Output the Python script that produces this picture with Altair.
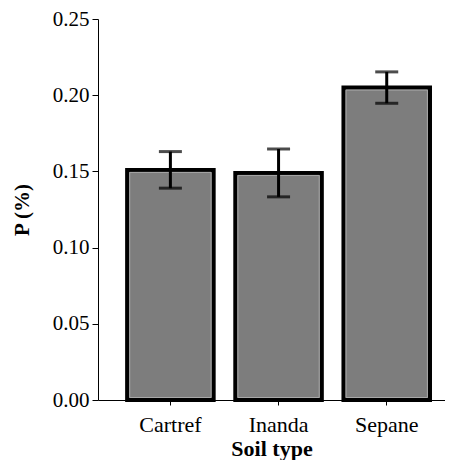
import altair as alt
import pandas as pd

soil = ["Cartref", "Inanda", "Sepane"]
p_mean = [0.151, 0.149, 0.205]
p_err = [0.012, 0.0157, 0.0103]

df = pd.DataFrame({"soil": soil, "p": p_mean, "err": p_err})
df["lo"] = df["p"] - df["err"]
df["hi"] = df["p"] + df["err"]

FONT = "Liberation Serif"

x = alt.X(
    "soil:N",
    sort=soil,
    scale=alt.Scale(paddingInner=0.2, paddingOuter=0.204, align=0.66),
    axis=alt.Axis(
        title="Soil type",
        labelAngle=0,
        labelFont=FONT,
        labelFontSize=22,
        labelColor="black",
        labelPadding=9,
        tickSize=5,
        tickColor="black",
        domainColor="black",
        titleFont=FONT,
        titleFontSize=22,
        titleFontWeight="bold",
        titleColor="black",
        titlePadding=3,
    ),
)

y_axis = alt.Axis(
    title="P (%)",
    values=[0, 0.05, 0.10, 0.15, 0.20, 0.25],
    format=".2f",
    grid=False,
    labelFont=FONT,
    labelFontSize=21,
    labelColor="black",
    labelPadding=3,
    tickSize=6,
    tickColor="black",
    domainColor="black",
    titleFont=FONT,
    titleFontSize=21,
    titleFontWeight="bold",
    titleColor="black",
    titlePadding=20,
)

y_scale = alt.Scale(domain=[0, 0.25], nice=False)

base = alt.Chart(df)

bars = base.mark_bar(fill="#7d7d7d", stroke="black", strokeWidth=4).encode(
    x=x,
    y=alt.Y("p:Q", scale=y_scale, axis=y_axis),
)

inner = base.mark_bar(
    fill=None, stroke="#a8a8a8", strokeWidth=1,
    width=alt.RelativeBandSize(0.94), yOffset=2.5, y2Offset=-2.5,
).encode(
    x=x,
    y=alt.Y("p:Q", scale=y_scale),
    y2=alt.datum(0),
)

stems = base.mark_rule(color="black", strokeWidth=3).encode(
    x=x,
    y=alt.Y("lo:Q", scale=y_scale),
    y2="hi:Q",
)

caps_lo = base.mark_tick(color="black", thickness=3, size=23).encode(
    x=x, y=alt.Y("lo:Q", scale=y_scale)
)
caps_hi = base.mark_tick(color="black", thickness=3, size=23).encode(
    x=x, y=alt.Y("hi:Q", scale=y_scale)
)

chart = (
    alt.layer(bars, inner, stems, caps_lo, caps_hi)
    .properties(
        width=347,
        height=381,
        autosize=alt.AutoSizeParams(type="none"),
        padding={"left": 90, "top": 11, "right": 0, "bottom": 60},
        background="white",
    )
    .configure_view(stroke=None)
)

chart.save("out.html", embed_options={"renderer": "svg", "actions": False})
